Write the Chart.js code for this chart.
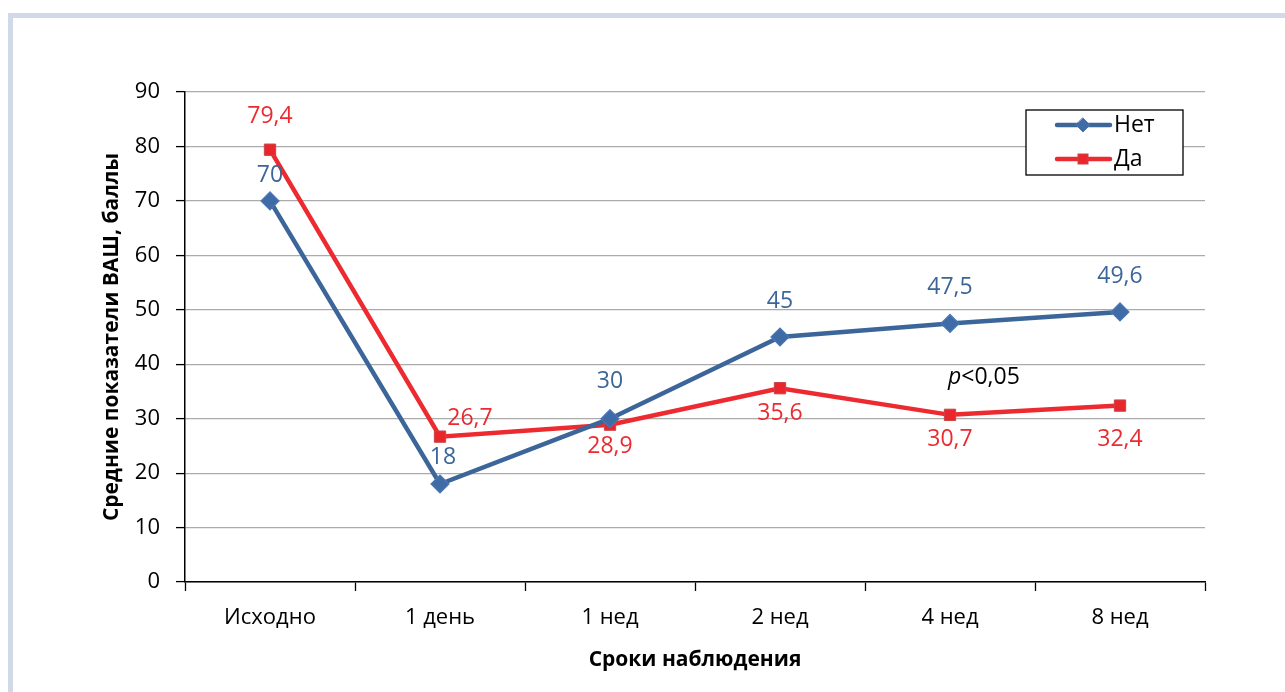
<!DOCTYPE html>
<html>
<head>
<meta charset="utf-8">
<script src="https://cdn.jsdelivr.net/npm/chart.js@4.4.1/dist/chart.umd.min.js"></script>
<style>
  html, body { margin: 0; padding: 0; background: #fff; overflow: hidden; }
  #frame { position: absolute; left: 8px; top: 13px; width: 1400px; height: 800px; border: 5px solid #D1D9E8; box-sizing: border-box; }
  #c { position: absolute; left: 0; top: 0; }
</style>
</head>
<body>
<div id="frame"></div>
<canvas id="c" width="1285" height="692"></canvas>
<script>
// ---- data ----
const categories = ['Исходно', '1 день', '1 нед', '2 нед', '4 нед', '8 нед'];
const seriesNames = ['Нет', 'Да'];
const valuesNo = [70, 18, 30, 45, 47.5, 49.6];
const valuesYes = [79.4, 26.7, 28.9, 35.6, 30.7, 32.4];
const yTicks = [0, 10, 20, 30, 40, 50, 60, 70, 80, 90];
const pText = ['p', '<0,05'];

// ---- styles ----
const BLUE = '#3C6699';
const RED = '#EC2A2F';
const FONT = "'Open Sans', 'Noto Sans', sans-serif";
// label offsets (pixels) relative to each point
const labelOffNo = [[0, -25], [3, -27], [0, -37], [0, -36], [0, -36], [0, -36]];
const labelOffYes = [[0, -33], [30, -18], [0, 22], [0, 25], [0, 25], [0, 34]];

function fmt(v) { return String(v).replace('.', ','); }

const labelPlugin = {
  id: 'labels',
  afterDatasetsDraw(chart) {
    const ctx = chart.ctx;
    ctx.save();
    ctx.font = '23px ' + FONT;
    ctx.textAlign = 'center';
    ctx.textBaseline = 'middle';
    chart.data.datasets.forEach((ds, di) => {
      const meta = chart.getDatasetMeta(di);
      const offs = di === 0 ? labelOffNo : labelOffYes;
      ctx.fillStyle = ds.borderColor;
      meta.data.forEach((pt, i) => {
        ctx.fillText(fmt(ds.data[i]), pt.x + offs[i][0], pt.y + offs[i][1]);
      });
    });
    // p-value annotation
    const xs = chart.scales.x, ys = chart.scales.y;
    const px = xs.getPixelForValue(4) - 2;
    const py = ys.getPixelForValue(37.5);
    ctx.textAlign = 'left';
    ctx.fillStyle = '#000';
    ctx.font = 'italic 23px ' + FONT;
    ctx.fillText(pText[0], px, py);
    const w = ctx.measureText(pText[0]).width;
    ctx.font = '23px ' + FONT;
    ctx.fillText(pText[1], px + w, py);

    // legend
    const ca = chart.chartArea;
    const bx = ca.right - 179, by = ca.top + 18, bw = 157, bh = 65;
    ctx.fillStyle = '#fff';
    ctx.fillRect(bx, by, bw, bh);
    ctx.strokeStyle = '#000';
    ctx.lineWidth = 1.3;
    ctx.strokeRect(bx, by, bw, bh);
    chart.data.datasets.forEach((ds, di) => {
      const yy = by + 15 + di * 34;
      ctx.strokeStyle = ds.borderColor;
      ctx.lineWidth = 4.5;
      ctx.lineCap = 'round';
      ctx.beginPath();
      ctx.moveTo(bx + 31, yy);
      ctx.lineTo(bx + 84, yy);
      ctx.stroke();
      ctx.fillStyle = ds.pointBackgroundColor;
      ctx.strokeStyle = ds.pointBorderColor;
      ctx.lineWidth = 1;
      const cx = bx + 57;
      if (di === 0) {
        ctx.beginPath();
        ctx.moveTo(cx, yy - 7); ctx.lineTo(cx + 7, yy); ctx.lineTo(cx, yy + 7); ctx.lineTo(cx - 7, yy); ctx.closePath();
        ctx.fill(); ctx.stroke();
      } else {
        ctx.fillRect(cx - 5, yy - 5, 10, 10);
        ctx.strokeRect(cx - 5, yy - 5, 10, 10);
      }
      ctx.fillStyle = '#000';
      ctx.font = '23px ' + FONT;
      ctx.textAlign = 'left';
      ctx.fillText(ds.label, bx + 88, yy);
    });
    ctx.restore();
  }
};

new Chart(document.getElementById('c'), {
  type: 'line',
  data: {
    labels: categories,
    datasets: [
      {
        label: seriesNames[0], data: valuesNo,
        borderColor: BLUE, borderWidth: 4.5,
        pointStyle: 'rectRot', pointRadius: 9, pointBackgroundColor: '#3F6CA6', pointBorderColor: '#4A78B4', pointBorderWidth: 1.2,
        tension: 0
      },
      {
        label: seriesNames[1], data: valuesYes,
        borderColor: RED, borderWidth: 4.5,
        pointStyle: 'rect', pointRadius: 8, pointBackgroundColor: '#E8262C', pointBorderColor: '#C9454A', pointBorderWidth: 1,
        tension: 0
      }
    ]
  },
  options: {
    responsive: false,
    animation: false,
    layout: { padding: { left: 0, right: 80, top: 92, bottom: 0 } },
    plugins: { legend: { display: false }, tooltip: { enabled: false } },
    scales: {
      x: {
        offset: true,
        grid: { offset: true, drawOnChartArea: false, drawTicks: true, tickLength: 9, tickColor: '#000', tickWidth: 1.3 },
        border: { color: '#000', width: 1.5 },
        ticks: { color: '#000', font: { family: FONT, size: 22 }, padding: 14, maxRotation: 0 },
        title: { display: true, text: 'Сроки наблюдения', color: '#000', font: { family: FONT, size: 21, weight: 'bold' }, padding: { top: 0, bottom: 19 } },
        afterFit(s) { s.height = 110; }
      },
      y: {
        min: 0, max: 90,
        afterBuildTicks(s) { s.ticks = yTicks.map(v => ({ value: v })); },
        grid: { color: '#ABABAB', lineWidth: 1.2, tickLength: 9, tickColor: '#000', tickWidth: 1.3 },
        border: { color: '#000', width: 1.5 },
        ticks: { color: '#000', font: { family: FONT, size: 22 }, padding: 16 },
        title: { display: true, text: 'Средние показатели ВАШ, баллы', color: '#000', font: { family: FONT, size: 21, weight: 'bold' }, padding: { top: 99, bottom: 0 } },
        afterFit(s) { s.width = 185; }
      }
    }
  },
  plugins: [labelPlugin]
});
</script>
</body>
</html>
